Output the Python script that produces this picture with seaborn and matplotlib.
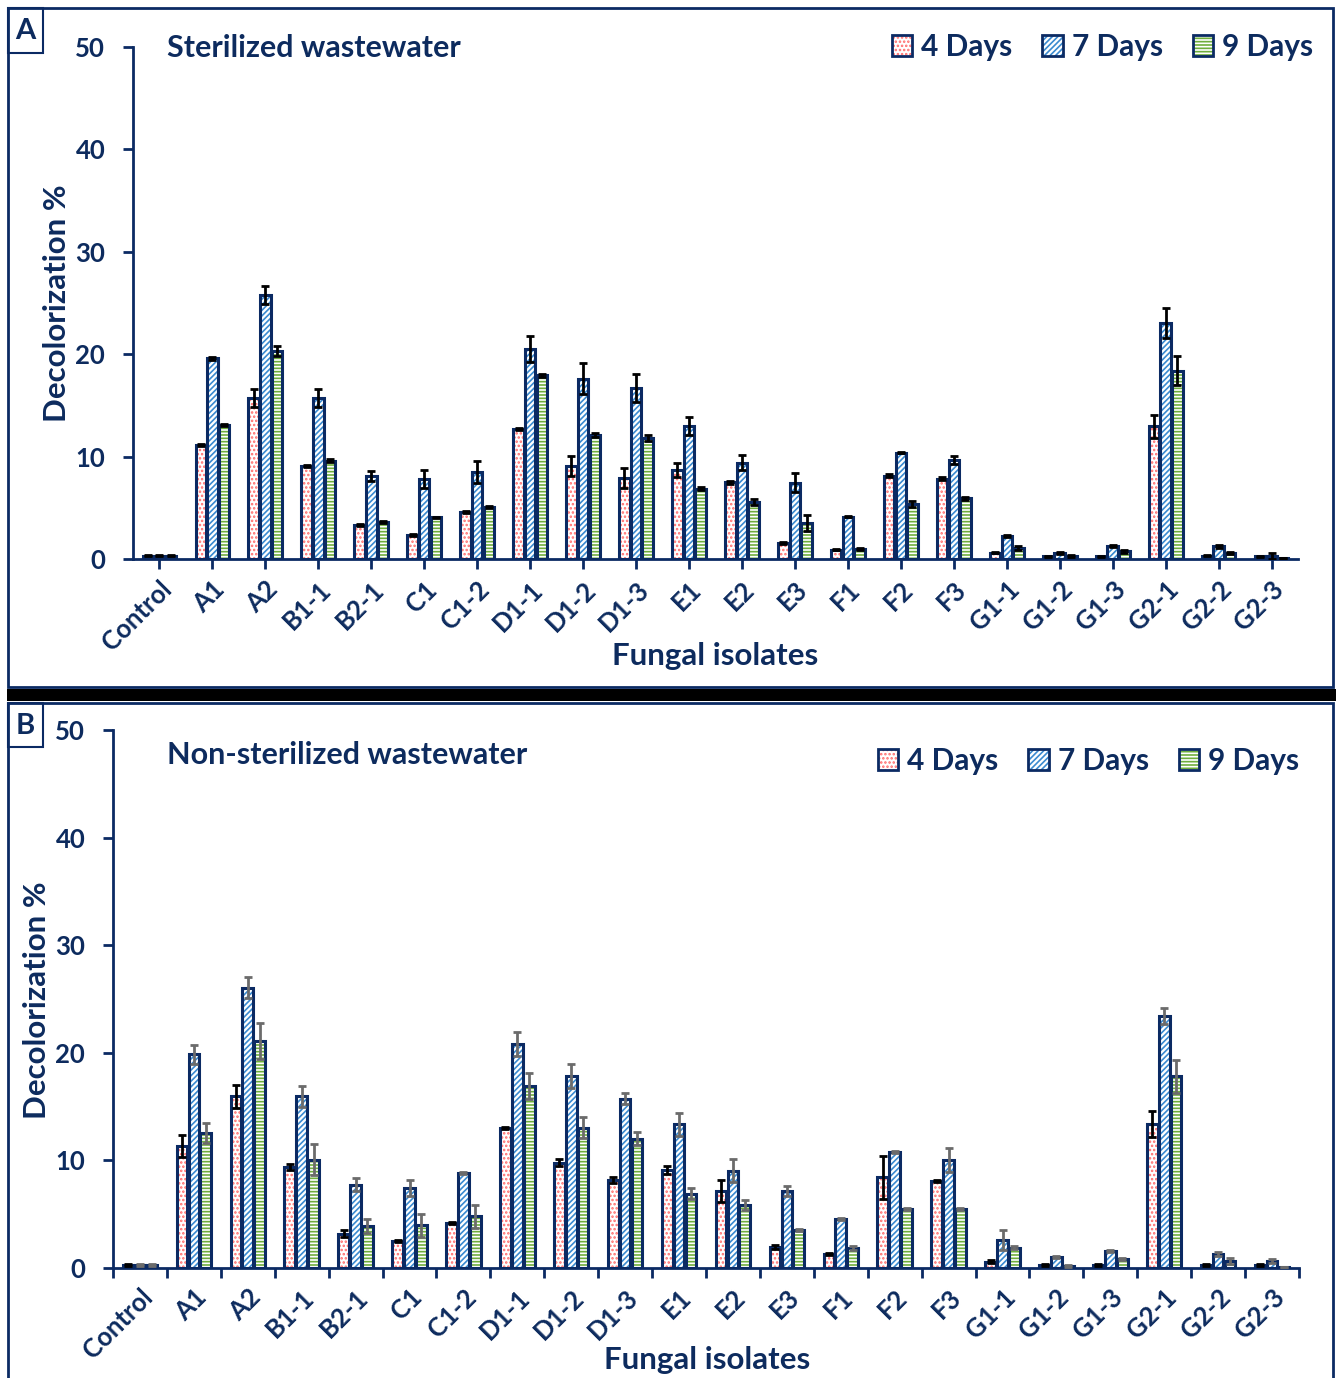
import numpy as np
import pandas as pd
import matplotlib
matplotlib.use("Agg")
import matplotlib.pyplot as plt
import seaborn as sns
from matplotlib.patches import Rectangle, Patch
from matplotlib.legend_handler import HandlerTuple

# ---------------- data ----------------
isolates = ["Control", "A1", "A2", "B1-1", "B2-1", "C1", "C1-2", "D1-1", "D1-2",
            "D1-3", "E1", "E2", "E3", "F1", "F2", "F3", "G1-1", "G1-2", "G1-3",
            "G2-1", "G2-2", "G2-3"]
days = ["4 Days", "7 Days", "9 Days"]

# Sterilized wastewater (panel A)
ster_4 = [0.3, 11.1, 15.7, 9.1, 3.3, 2.3, 4.6, 12.7, 9.1, 7.9, 8.7, 7.5, 1.6, 0.9,
          8.15, 7.85, 0.6, 0.25, 0.25, 12.95, 0.3, 0.25]
ster_7 = [0.3, 19.6, 25.8, 15.7, 8.1, 7.8, 8.5, 20.5, 17.6, 16.7, 13.0, 9.4, 7.45, 4.15,
          10.4, 9.7, 2.25, 0.6, 1.25, 23.05, 1.25, 0.3]
ster_9 = [0.3, 13.05, 20.3, 9.6, 3.6, 4.1, 5.1, 17.95, 12.1, 11.8, 6.85, 5.6, 3.5, 1.0,
          5.4, 5.95, 1.05, 0.25, 0.75, 18.4, 0.6, 0.05]
ster_4_sd = [0.05, 0.1, 0.9, 0.1, 0.1, 0.1, 0.1, 0.1, 1.0, 1.0, 0.7, 0.15, 0.1, 0.05,
             0.15, 0.15, 0.05, 0.05, 0.05, 1.1, 0.05, 0.05]
ster_7_sd = [0.05, 0.15, 0.85, 0.9, 0.45, 0.9, 1.1, 1.3, 1.5, 1.35, 0.9, 0.75, 0.9, 0.05,
             0.05, 0.4, 0.1, 0.1, 0.1, 1.5, 0.15, 0.3]
ster_9_sd = [0.05, 0.1, 0.5, 0.15, 0.1, 0.05, 0.1, 0.15, 0.2, 0.3, 0.15, 0.3, 0.75, 0.1,
             0.3, 0.15, 0.2, 0.1, 0.15, 1.4, 0.1, 0.0]

# Non-sterilized wastewater (panel B)
nons_4 = [0.3, 11.35, 15.95, 9.4, 3.2, 2.5, 4.2, 13.05, 9.8, 8.2, 9.1, 7.15, 1.95, 1.3,
          8.45, 8.05, 0.6, 0.3, 0.3, 13.35, 0.3, 0.3]
nons_7 = [0.3, 19.85, 26.05, 15.95, 7.75, 7.45, 8.8, 20.8, 17.85, 15.75, 13.35, 9.05, 7.15,
          4.55, 10.75, 10.05, 2.6, 1.0, 1.6, 23.45, 1.3, 0.65]
nons_9 = [0.3, 12.55, 21.1, 10.05, 3.9, 3.95, 4.8, 16.9, 13.05, 12.0, 6.9, 5.85, 3.5, 1.85,
          5.5, 5.45, 1.9, 0.15, 0.8, 17.8, 0.65, 0.05]
nons_4_sd = [0.1, 1.0, 1.1, 0.3, 0.35, 0.1, 0.1, 0.1, 0.35, 0.3, 0.4, 1.05, 0.2, 0.1,
             2.0, 0.1, 0.1, 0.1, 0.1, 1.2, 0.1, 0.1]
nons_7_sd = [0.1, 0.9, 1.0, 1.0, 0.6, 0.75, 0.1, 1.1, 1.1, 0.55, 1.05, 1.05, 0.45, 0.1,
             0.1, 1.1, 0.9, 0.1, 0.1, 0.75, 0.15, 0.2]
nons_9_sd = [0.1, 0.9, 1.7, 1.45, 0.65, 1.05, 1.1, 1.2, 1.0, 0.6, 0.5, 0.45, 0.1, 0.15,
             0.1, 0.1, 0.15, 0.1, 0.1, 1.5, 0.3, 0.0]

# ---------------- style ----------------
NAVY = "#0b2a63"
TEXT = "#0d2b5e"
hatch_styles = ["....", "//////", "-----"]
hatch_colors = ["#ff6b6b", "#3a8ad0", "#6fae3c"]

sns.set_theme(style="white")
plt.rcParams["font.family"] = ["Lato", "DejaVu Sans"]
plt.rcParams["font.weight"] = "bold"
plt.rcParams["hatch.linewidth"] = 1.2

W, H = 1336, 1378
fig = plt.figure(figsize=(W / 100, H / 100), dpi=100)
fig.patch.set_facecolor("white")


def fx(x):
    return x / W


def fy(y):
    return 1 - y / H


def panel(ax, means, sds, err_colors, title, ticks_between, title_xy, legend_xy,
          ylabel_xy, xlabel_xy):
    df = pd.DataFrame({
        "isolate": np.tile(isolates, 3),
        "day": np.repeat(days, len(isolates)),
        "value": np.concatenate(means),
    })
    sns.barplot(data=df, x="isolate", y="value", hue="day", order=isolates,
                hue_order=days, ax=ax, width=0.66, gap=0.1, errorbar=None,
                legend=False, palette=["white"] * 3)

    bar_groups = list(ax.containers)
    for k, cont in enumerate(bar_groups):
        for bar, sd in zip(cont.patches, sds[k]):
            bar.set_facecolor("white")
            bar.set_hatch(hatch_styles[k])
            bar.set_edgecolor(hatch_colors[k])
            bar.set_linewidth(0)
            bar.set_zorder(2)
            ax.add_patch(Rectangle(bar.get_xy(), bar.get_width(), bar.get_height(),
                                   fill=False, edgecolor=NAVY, linewidth=2.2, zorder=3))
            cx = bar.get_x() + bar.get_width() / 2
            ax.errorbar(cx, bar.get_height(), yerr=sd, fmt="none",
                        ecolor=err_colors[k], elinewidth=2.0, capsize=2.8,
                        capthick=2.0, zorder=4)

    ax.set_ylim(0, 50)
    ax.set_xlim(-0.5, len(isolates) - 0.5)
    ax.set_yticks(np.arange(0, 51, 10))
    ax.set_yticklabels([str(v) for v in range(0, 51, 10)], fontsize=18.5,
                       fontweight="bold", color=TEXT)
    if ticks_between:
        ax.set_xticks(np.arange(-0.5, len(isolates), 1.0))
        ax.set_xticklabels([])
        ax.set_xticks(np.arange(len(isolates)), minor=True)
        ax.set_xticklabels(isolates, minor=True, rotation=45, ha="right",
                           rotation_mode="anchor", fontsize=18.5, fontweight="bold",
                           color=TEXT)
        ax.tick_params(axis="x", which="minor", length=0, pad=12)
    else:
        ax.set_xticks(np.arange(len(isolates)))
        ax.set_xticklabels(isolates, rotation=45, ha="right", rotation_mode="anchor",
                           fontsize=18.5, fontweight="bold", color=TEXT)
    ax.tick_params(axis="x", which="major", direction="out", length=7, width=2,
                   color=NAVY, pad=6)
    ax.tick_params(axis="y", direction="out", length=7, width=2, color=NAVY, pad=13)
    ax.tick_params(bottom=True, left=True)
    for side in ["top", "right"]:
        ax.spines[side].set_visible(False)
    for side in ["left", "bottom"]:
        ax.spines[side].set_color(NAVY)
        ax.spines[side].set_linewidth(2)
    ax.set_xlabel("")
    ax.set_ylabel("")
    ax.set_facecolor("none")

    fig.text(fx(title_xy[0]), fy(title_xy[1]), title, fontsize=22, fontweight="bold",
             color=TEXT, ha="left", va="center")
    fig.text(fx(ylabel_xy[0]), fy(ylabel_xy[1]), "Decolorization %", fontsize=22.5,
             fontweight="bold", color=TEXT, rotation=90, ha="center", va="center")
    fig.text(fx(xlabel_xy[0]), fy(xlabel_xy[1]), "Fungal isolates", fontsize=22.5,
             fontweight="bold", color=TEXT, ha="center", va="center")

    handles = []
    for k in range(3):
        fillp = Patch(facecolor="white", hatch=hatch_styles[k],
                      edgecolor=hatch_colors[k], linewidth=0)
        outline = Patch(facecolor="none", edgecolor=NAVY, linewidth=2.0)
        handles.append((fillp, outline))
    fig.legend(handles, days, handler_map={tuple: HandlerTuple(ndivide=1, pad=0)},
               loc="center right", bbox_to_anchor=(fx(legend_xy[0]), fy(legend_xy[1])),
               bbox_transform=fig.transFigure, ncol=3, frameon=False,
               prop={"size": 21.5, "weight": "bold"}, labelcolor=TEXT,
               handlelength=0.68, handleheight=0.68, handletextpad=0.3,
               columnspacing=1.0, borderpad=0, borderaxespad=0)


axA = fig.add_axes([fx(133), fy(559), fx(1298 - 133), (559 - 47) / H])
axB = fig.add_axes([fx(113), fy(1268), fx(1299 - 113), (1268 - 730) / H])

panel(axA, [ster_4, ster_7, ster_9], [ster_4_sd, ster_7_sd, ster_9_sd],
      ["black", "black", "black"], "Sterilized wastewater", False,
      title_xy=(167, 48), legend_xy=(1313, 47), ylabel_xy=(57, 303),
      xlabel_xy=(715, 656))
panel(axB, [nons_4, nons_7, nons_9], [nons_4_sd, nons_7_sd, nons_9_sd],
      ["black", "#6b6b6b", "#6b6b6b"], "Non-sterilized wastewater", True,
      title_xy=(167, 755), legend_xy=(1299, 761), ylabel_xy=(37, 1000),
      xlabel_xy=(707, 1360))

# panel frames, separator band and panel letters
def frame_rect(x0, y0, x1, y1, **kw):
    fig.add_artist(Rectangle((fx(x0), fy(y1)), fx(x1 - x0), (y1 - y0) / H,
                             transform=fig.transFigure, **kw))

frame_rect(8, 8, 1333, 687, fill=False, edgecolor=NAVY, linewidth=2.0)
frame_rect(8, 703, 1333, 1390, fill=False, edgecolor=NAVY, linewidth=2.0)
frame_rect(7, 689, 1336, 701, facecolor="black", edgecolor="none")
frame_rect(8, 8, 43, 53, fill=False, edgecolor=NAVY, linewidth=1.5)
frame_rect(8, 703, 43, 747, fill=False, edgecolor=NAVY, linewidth=1.5)
fig.text(fx(25.5), fy(31), "A", fontsize=21, fontweight="bold", color=TEXT,
         ha="center", va="center")
fig.text(fx(25.5), fy(726), "B", fontsize=21, fontweight="bold", color=TEXT,
         ha="center", va="center")

fig.savefig("out.png", dpi=100, facecolor="white")
